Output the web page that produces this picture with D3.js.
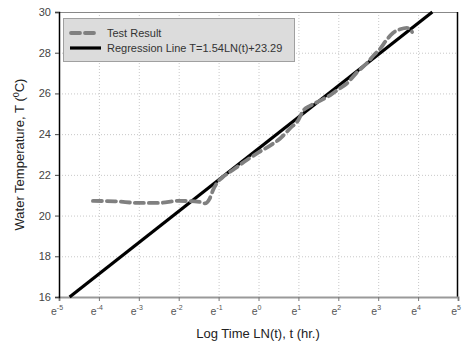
<!DOCTYPE html>
<html>
<head>
<meta charset="utf-8">
<script src="https://cdn.jsdelivr.net/npm/d3@7"></script>
<style>
  body { margin: 0; background: #fff; }
  svg { display: block; font-family: "Liberation Sans", Arial, sans-serif; }
</style>
</head>
<body>
<div id="view"></div>
<script>
// measured curve: ln(t) vs water temperature
const lnTime = [-4.15, -3.6, -3.0, -2.5, -2.0, -1.6, -1.45, -1.34, -1.22, -1.14, -1.0, -0.9, -0.6, -0.3, 0, 0.3, 0.55, 0.8, 1.0, 1.12, 1.3, 1.55, 1.8, 2.0, 2.22, 2.45, 2.72, 2.9, 3.05, 3.2, 3.37, 3.55, 3.72, 3.85];
const temp   = [20.72, 20.70, 20.62, 20.62, 20.72, 20.70, 20.66, 20.6, 20.85, 21.25, 21.7, 21.88, 22.3, 22.72, 23.1, 23.45, 23.8, 24.3, 24.7, 25.15, 25.4, 25.65, 25.92, 26.2, 26.5, 27.0, 27.5, 27.9, 28.2, 28.6, 28.97, 29.15, 29.22, 29.02];

// regression T = 1.54 LN(t) + 23.29, drawn across the temperature range
const regSlope = 1.54;
const regIntercept = 23.29;
const regEnds = [16, 30];

const xTicks = [-5, -4, -3, -2, -1, 0, 1, 2, 3, 4, 5];
const yTicks = [16, 18, 20, 22, 24, 26, 28, 30];
const legendLabels = ["Test Result", "Regression Line T=1.54LN(t)+23.29"];

const width = 466, height = 347;
const margin = {left: 59, right: 8, top: 12, bottom: 50};

const svg = d3.select("#view").append("svg")
  .attr("width", width)
  .attr("height", height);

const x = d3.scaleLinear().domain([-5, 5]).range([margin.left, width - margin.right]);
const y = d3.scaleLinear().domain([16, 30]).range([height - margin.bottom, margin.top]);

// grid
const grid = svg.append("g").attr("stroke", "#c8c8c8").attr("stroke-width", 1).attr("stroke-dasharray", "1,2");
grid.selectAll(".gx").data(xTicks.slice(1, -1)).enter().append("line")
  .attr("x1", d => x(d) + 0.5).attr("x2", d => x(d) + 0.5)
  .attr("y1", y(30)).attr("y2", y(16));
grid.selectAll(".gy").data(yTicks.slice(1, -1)).enter().append("line")
  .attr("x1", x(-5)).attr("x2", x(5))
  .attr("y1", d => y(d) + 0.5).attr("y2", d => y(d) + 0.5);

// frame: top gray, right black
svg.append("line").attr("x1", x(-5)).attr("x2", x(5)).attr("y1", y(30) + 0.5).attr("y2", y(30) + 0.5)
  .attr("stroke", "#888");
svg.append("line").attr("x1", x(5) - 0.5).attr("x2", x(5) - 0.5).attr("y1", y(30)).attr("y2", y(16))
  .attr("stroke", "#000").attr("stroke-width", 1.5);

// axes
const xAxis = d3.axisBottom(x).tickValues(xTicks).tickSize(4).tickFormat("");
const gx = svg.append("g").attr("transform", `translate(0,${y(16)})`).call(xAxis);
gx.select(".domain").attr("stroke", "#999").attr("stroke-width", 2);
gx.selectAll(".tick line").attr("stroke", "#777");

const exps = ["-5", "-4", "-3", "-2", "-1", "0", "1", "2", "3", "4", "5"];
const xl = svg.append("g").attr("font-size", 10.5).attr("fill", "#555");
xl.selectAll("text").data(xTicks).enter().append("text")
  .attr("x", d => x(d) - 2)
  .attr("y", y(16) + 18)
  .attr("text-anchor", "middle")
  .each(function(d, i) {
    const t = d3.select(this);
    t.append("tspan").text("e");
    t.append("tspan").attr("font-size", 7).attr("dy", -5).text(exps[i]);
  });

const yAxis = d3.axisLeft(y).tickValues(yTicks).tickSize(4).tickPadding(4);
const gy = svg.append("g").attr("transform", `translate(${x(-5)},0)`).call(yAxis);
gy.select(".domain").attr("stroke", "#000").attr("stroke-width", 1.5);
gy.selectAll(".tick line").attr("stroke", "#444");
gy.selectAll(".tick text").attr("font-size", 11).attr("fill", "#444")
  .attr("font-family", "Liberation Sans, Arial, sans-serif");

// regression line
svg.append("line")
  .attr("x1", x((regEnds[0] - regIntercept) / regSlope)).attr("y1", y(regEnds[0]))
  .attr("x2", x((regEnds[1] - regIntercept) / regSlope)).attr("y2", y(regEnds[1]))
  .attr("stroke", "#000").attr("stroke-width", 3.2);

// test result
const line = d3.line().x(d => x(d[0])).y(d => y(d[1])).curve(d3.curveMonotoneX);
svg.append("path")
  .datum(lnTime.map((d, i) => [d, temp[i]]))
  .attr("d", line)
  .attr("fill", "none")
  .attr("stroke", "#808080")
  .attr("stroke-width", 3.8)
  .attr("stroke-dasharray", "9,5")
  .attr("stroke-linecap", "round");

// legend
const lg = svg.append("g");
lg.append("rect").attr("x", 63.5).attr("y", 18.5).attr("width", 231).attr("height", 43)
  .attr("fill", "#dcdcdc").attr("stroke", "#a0a0a0");
lg.append("line").attr("x1", 71).attr("x2", 98).attr("y1", 33).attr("y2", 33)
  .attr("stroke", "#808080").attr("stroke-width", 3.8).attr("stroke-dasharray", "9,5").attr("stroke-linecap", "round");
lg.append("line").attr("x1", 70).attr("x2", 101).attr("y1", 48).attr("y2", 48)
  .attr("stroke", "#000").attr("stroke-width", 3.2);
lg.selectAll("text").data(legendLabels).enter().append("text")
  .attr("x", 107).attr("y", (d, i) => 37 + i * 14.5)
  .attr("font-size", 11).attr("fill", "#333")
  .text(d => d);

// axis titles
svg.append("text")
  .attr("x", 258).attr("y", 338)
  .attr("text-anchor", "middle").attr("font-size", 13).attr("fill", "#222")
  .text("Log Time LN(t), t (hr.)");

const yt = svg.append("text")
  .attr("transform", `translate(24,${(y(16) + y(30)) / 2}) rotate(-90)`)
  .attr("text-anchor", "middle").attr("font-size", 13).attr("fill", "#222");
yt.append("tspan").text("Water Temperature, T (");
yt.append("tspan").attr("font-size", 9).attr("dy", -5).text("0");
yt.append("tspan").attr("dy", 5).text("C)");
</script>
</body>
</html>
